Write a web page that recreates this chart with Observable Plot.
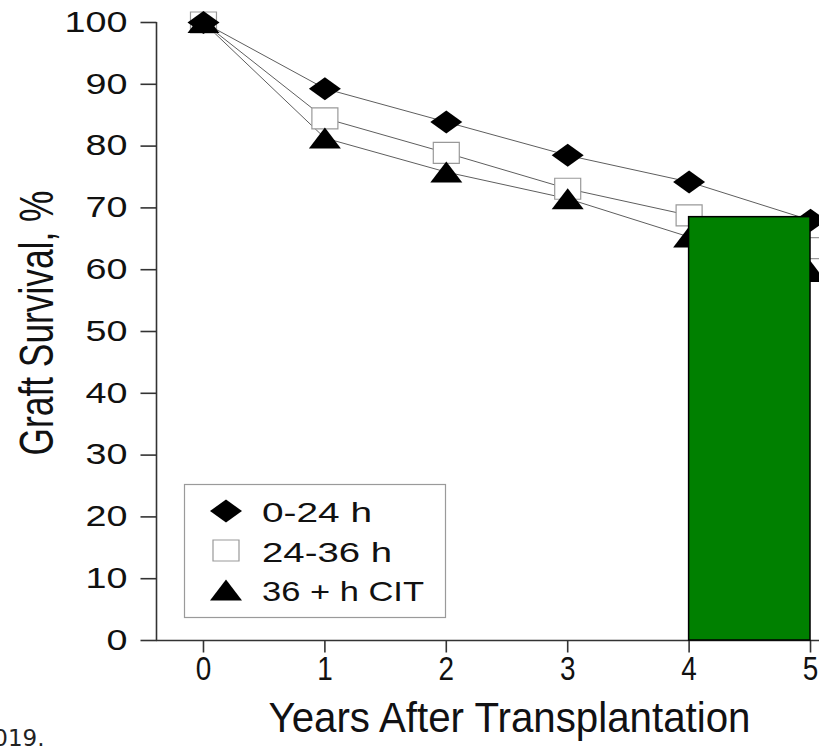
<!DOCTYPE html>
<html><head><meta charset="utf-8">
<script src="https://cdn.jsdelivr.net/npm/d3@7"></script>
<script src="https://cdn.jsdelivr.net/npm/@observablehq/plot@0.6"></script>
<style>html,body{margin:0;padding:0;background:#fff;overflow:hidden}</style>
</head><body><div id="chart"></div>
<script>
// ---- data ----
const years = [0, 1, 2, 3, 4, 5];
const cit0to24 = [100, 89.3, 83.9, 78.5, 74.2, 68.0];
const cit24to36 = [100, 84.5, 78.9, 73.1, 68.8, 63.5];
const cit36plus = [100, 81.3, 75.8, 71.5, 65.3, 59.7];
const seriesNames = ["0-24 h", "24-36 h", "36 + h CIT"];
const highlightX1 = [4];
const highlightX2 = [5];
const highlightTop = [68.5];
const yTicks = [0, 10, 20, 30, 40, 50, 60, 70, 80, 90, 100];
const xTicks = [0, 1, 2, 3, 4, 5];
const yLabel = "Graft Survival, %";
const xLabel = "Years After Transplantation";
const footnote = "2019.";

// ---- helpers ----
const rows = arr => years.map((x, i) => ({x, y: arr[i]}));
const sym = f => ({draw(ctx) { f(ctx); }});
const diamondSym = sym(c => { c.moveTo(0, -11.5); c.lineTo(16, 0); c.lineTo(0, 11.5); c.lineTo(-16, 0); c.closePath(); });
const squareSym = sym(c => { c.moveTo(-13, -10.5); c.lineTo(13, -10.5); c.lineTo(13, 10.5); c.lineTo(-13, 10.5); c.closePath(); });
const triangleSym = sym(c => { c.moveTo(0, -10.5); c.lineTo(16, 10.5); c.lineTo(-16, 10.5); c.closePath(); });
const yTickSym = sym(c => { c.moveTo(-16, 0); c.lineTo(0, 0); });
const xTickSym = sym(c => { c.moveTo(0, 0); c.lineTo(0, 12); });

const FONT = "'Liberation Sans', Arial, Helvetica, sans-serif";
const AX = "#333";
const LINE = "#5e5e5e";
// distinct fills used to find text groups afterwards
const F_YT = "#111110", F_XT = "#111111", F_YL = "#111112", F_XL = "#111113";
const xMin = -0.387, xMax = 5.074;
const highlight = highlightX1.map((x1, i) => ({x1, x2: highlightX2[i], y1: 0, y2: highlightTop[i]}));

const plot = Plot.plot({
  width: 819, height: 746,
  marginLeft: 156, marginRight: 0, marginTop: 22, marginBottom: 106,
  x: {domain: [xMin, xMax], axis: null},
  y: {domain: [0, 100], axis: null},
  style: {background: "white", fontFamily: FONT, color: "#111"},
  marks: [
    Plot.ruleY([0], {stroke: AX, strokeWidth: 1.6}),
    Plot.ruleX([xMin], {y1: 0, y2: 100, stroke: AX, strokeWidth: 1.6}),
    Plot.dot(yTicks, {x: () => xMin, y: d => d, symbol: yTickSym, stroke: AX, strokeWidth: 1.6, fill: "none"}),
    Plot.dot(xTicks, {x: d => d, y: () => 0, symbol: xTickSym, stroke: AX, strokeWidth: 1.6, fill: "none"}),
    Plot.text(yTicks, {x: () => xMin, y: d => d, text: d => String(d), textAnchor: "end", lineAnchor: "middle", dx: -29, fontSize: 29, fill: F_YT}),
    Plot.text(xTicks, {x: d => d, y: () => 0, text: d => String(d), textAnchor: "middle", lineAnchor: "middle", dy: 29, fontSize: 34, fill: F_XT}),
    Plot.line(rows(cit0to24), {x: "x", y: "y", stroke: LINE, strokeWidth: 1}),
    Plot.line(rows(cit24to36), {x: "x", y: "y", stroke: LINE, strokeWidth: 1}),
    Plot.line(rows(cit36plus), {x: "x", y: "y", stroke: LINE, strokeWidth: 1}),
    Plot.dot(rows(cit24to36), {x: "x", y: "y", symbol: squareSym, fill: "white", stroke: "#999", strokeWidth: 1.2}),
    Plot.dot(rows(cit36plus), {x: "x", y: "y", symbol: triangleSym, fill: "black", stroke: "none"}),
    Plot.dot(rows(cit0to24), {x: "x", y: "y", symbol: diamondSym, fill: "black", stroke: "none"}),
    Plot.rect(highlight, {x1: "x1", x2: "x2", y1: "y1", y2: "y2", fill: "#008000", stroke: "black", strokeWidth: 1.5}),
    Plot.text([yLabel], {frameAnchor: "left", text: d => d, rotate: -90, textAnchor: "middle", lineAnchor: "middle", dx: -118.4, dy: -8.5, fontSize: 48, fill: F_YL}),
    Plot.text([xLabel], {frameAnchor: "bottom", text: d => d, textAnchor: "middle", lineAnchor: "middle", dx: 21.5, dy: 77.6, fontSize: 42, fill: F_XL}),
    Plot.text([footnote], {frameAnchor: "bottom-left", text: d => d, textAnchor: "end", lineAnchor: "middle", dx: -112, dy: 98, fontSize: 23, fontFamily: "'DejaVu Sans', sans-serif", fill: "#222"})
  ]
});
document.getElementById("chart").appendChild(plot);

// stretch helpers
function stretch(fill, fn) {
  plot.querySelectorAll(`g[fill="${fill}"] text`).forEach(t => {
    const L = t.getComputedTextLength();
    t.setAttribute("textLength", fn(L, t));
    t.setAttribute("lengthAdjust", "spacingAndGlyphs");
  });
}
stretch(F_YT, L => L * 1.3);
stretch(F_XT, L => L * 0.82);
stretch(F_YL, () => 265);
stretch(F_XL, () => 482);

// legend
const svg = d3.select(plot);
const lg = svg.append("g").attr("aria-label", "legend").attr("text-anchor", "start");
lg.append("rect").attr("x", 184.5).attr("y", 484.5).attr("width", 261).attr("height", 133)
  .attr("fill", "white").attr("stroke", "#9a9a9a").attr("stroke-width", 1.2);
const legendItems = [
  {name: seriesNames[0], s: diamondSym, fill: "black", stroke: "none", cy: 511, by: 521.7, len: 110},
  {name: seriesNames[1], s: squareSym, fill: "white", stroke: "#999", cy: 550.5, by: 561.7, len: 130},
  {name: seriesNames[2], s: triangleSym, fill: "black", stroke: "none", cy: 590, by: 600.5, len: 162}
];
legendItems.forEach(it => {
  lg.append("path").attr("d", d3.symbol(it.s)()).attr("transform", `translate(226,${it.cy})`)
    .attr("fill", it.fill).attr("stroke", it.stroke).attr("stroke-width", 1.2);
  lg.append("text").attr("x", 262).attr("y", it.by).attr("font-size", 28).attr("font-family", FONT)
    .attr("text-anchor", "start").attr("fill", "#111")
    .attr("textLength", it.len).attr("lengthAdjust", "spacingAndGlyphs").text(it.name);
});
</script>
</body></html>
